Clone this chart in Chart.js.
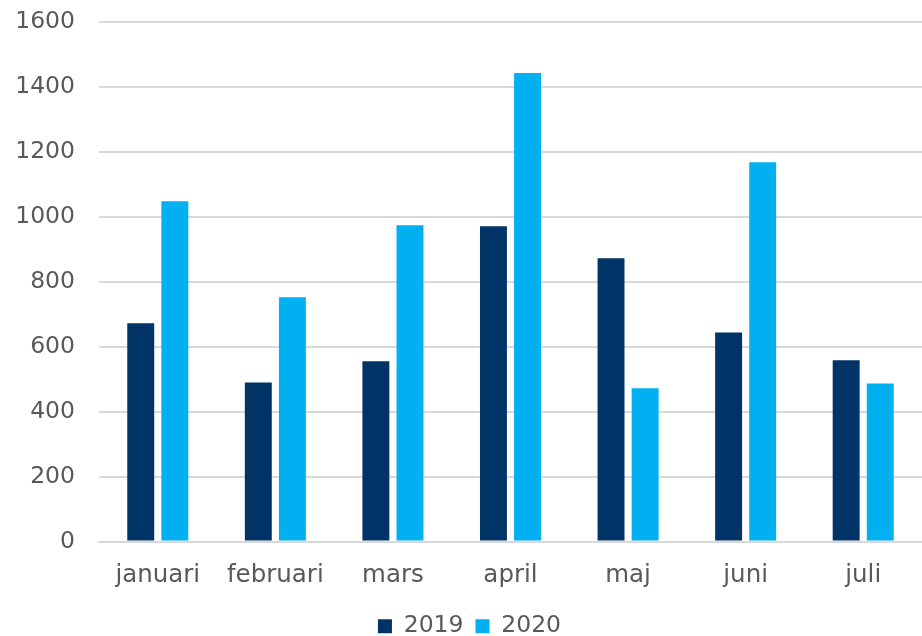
<!DOCTYPE html>
<html>
<head>
<meta charset="utf-8">
<script src="https://cdn.jsdelivr.net/npm/chart.js@4/dist/chart.umd.min.js"></script>
<style>
  html, body { margin: 0; padding: 0; background: #fff; }
  #wrap { width: 922px; height: 636px; }
</style>
</head>
<body>
<div id="wrap"><canvas id="chart" width="922" height="636"></canvas></div>
<script>
// data
const months = ["januari", "februari", "mars", "april", "maj", "juni", "juli"];
const values2019 = [672, 490, 555, 971, 872, 644, 558];
const values2020 = [1048, 752, 974, 1443, 472, 1168, 487];
const yTicks = [0, 200, 400, 600, 800, 1000, 1200, 1400, 1600];

const textColor = "#595959";
const gridColor = "#d9d9d9";
const fontFamily = "'DejaVu Sans', Verdana, sans-serif";
const fontSize = 23.5;

function Main() {
  new Chart(document.getElementById("chart").getContext("2d"), {
    type: "bar",
    data: {
      labels: months,
      datasets: [
        {
          label: "2019",
          data: values2019,
          backgroundColor: "#003366",
          categoryPercentage: 0.58,
          barPercentage: 0.79,
        },
        {
          label: "2020",
          data: values2020,
          backgroundColor: "#00b0f0",
          categoryPercentage: 0.58,
          barPercentage: 0.79,
        },
      ],
    },
    options: {
      responsive: false,
      animation: false,
      layout: { padding: { left: 17, right: 0, top: 0, bottom: -12 } },
      plugins: {
        tooltip: { enabled: false },
        legend: {
          position: "bottom",
          labels: {
            boxWidth: 14,
            boxHeight: 14,
            padding: 12,
            color: textColor,
            font: { family: fontFamily, size: fontSize },
          },
        },
      },
      scales: {
        x: {
          grid: { display: false },
          border: { display: true, color: gridColor, width: 2 },
          ticks: {
            color: textColor,
            padding: 11,
            font: { family: fontFamily, size: 24.5 },
          },
          afterFit: (axis) => {
            axis.height = 61;
            axis.paddingLeft = 0;
            axis.paddingRight = 0;
          },
        },
        y: {
          min: 0,
          max: 1600,
          afterBuildTicks: (axis) => {
            axis.ticks = yTicks.map((v) => ({ value: v }));
          },
          afterFit: (axis) => {
            axis.width = 82;
            axis.paddingTop = 22;
            axis.paddingBottom = 0;
          },
          grid: { color: gridColor, lineWidth: 2, drawTicks: false },
          border: { display: false },
          ticks: {
            color: textColor,
            padding: 24,
            font: { family: fontFamily, size: fontSize },
            callback: (v) => String(v),
          },
        },
      },
    },
  });
}

Main();
</script>
</body>
</html>
